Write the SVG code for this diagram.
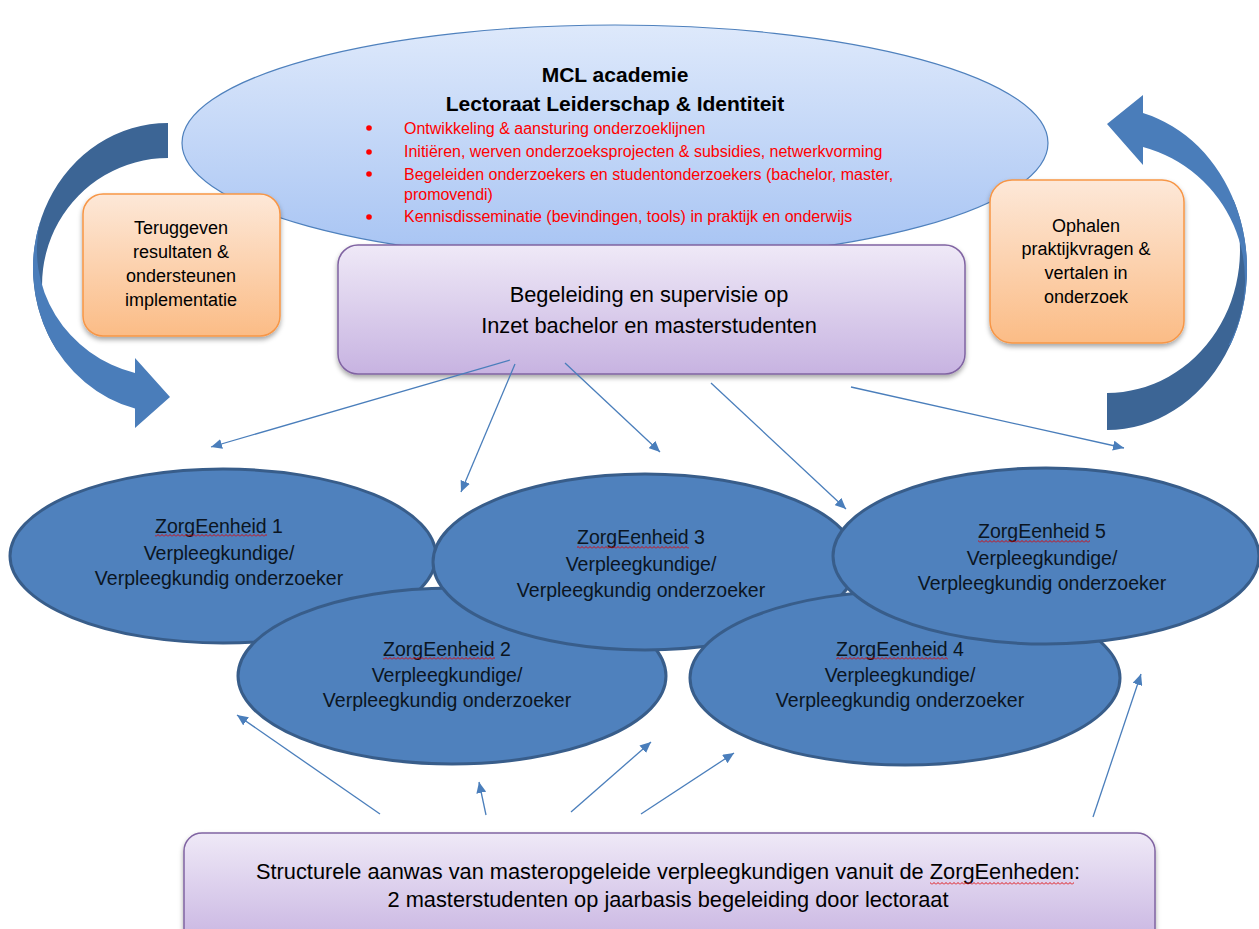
<svg xmlns="http://www.w3.org/2000/svg" width="1259" height="929" viewBox="0 0 1259 929">
<style>
text { font-family: "Liberation Sans", Arial, sans-serif; fill: #000; }
.c { text-anchor: middle; }
.title { font-size: 21px; font-weight: bold; }
.red { font-size: 16px; fill: #ff0000; }
.box { font-size: 21.8px; }
.or { font-size: 18px; }
.ze { font-size: 19.5px; fill: #0b1522; }
.zell { fill: #4f81bd; stroke: #385d8a; stroke-width: 3; }
.wavy { fill: url(#wavy); }
.conn line { stroke: #4a7ebb; stroke-width: 1.3; marker-end: url(#ah); }
.arrDark { fill: #3c6595; }
.arrLight { fill: #4a7dba; }
</style>
<defs>
<linearGradient id="gBlue" x1="0" y1="0" x2="0" y2="1">
<stop offset="0" stop-color="#dee9fb"/>
<stop offset="1" stop-color="#a6c3f3"/>
</linearGradient>
<linearGradient id="gPurple" x1="0" y1="0" x2="0" y2="1">
<stop offset="0" stop-color="#efe9f7"/>
<stop offset="1" stop-color="#c7b3e1"/>
</linearGradient>
<linearGradient id="gOrange" x1="0" y1="0" x2="0" y2="1">
<stop offset="0" stop-color="#fde8d8"/>
<stop offset="1" stop-color="#fbbc86"/>
</linearGradient>
<filter id="sh" x="-10%" y="-10%" width="120%" height="130%">
<feDropShadow dx="0" dy="3" stdDeviation="2.5" flood-color="#000" flood-opacity="0.35"/>
</filter>
<pattern id="wavy" width="4" height="3" patternUnits="userSpaceOnUse">
<path d="M0,2.5 L2,0.5 L4,2.5" fill="none" stroke="#e00000" stroke-width="0.9"/>
</pattern>
<marker id="ah" markerWidth="12" markerHeight="10" refX="11" refY="5" orient="auto" markerUnits="userSpaceOnUse">
<path d="M0,0 L11,5 L0,10 Z" fill="#4a7ebb"/>
</marker>
</defs>

<rect width="1259" height="929" fill="#ffffff"/>

<g id="arrow-left">
<path class="arrDark" d="M168,123 A135,145 0 0 0 56.7,350 L59.8,350 A126,127 0 0 1 168,158 Z"/>
<path class="arrLight" d="M40.6,220 A135,145 0 0 0 135,408.6 L135,428 L170,397 L135,358 L135,373 A131,127.1 0 0 1 40.6,220 Z"/>
</g>
<g id="arrow-right">
<path class="arrDark" d="M1107,430 A140,161.2 0 0 0 1233.6,200 L1231.6,200 A133,143 0 0 1 1107,393 Z"/>
<path class="arrLight" d="M1143,113 A140,161.2 0 0 1 1230.4,345 L1228.7,345 A138,137.8 0 0 0 1143,147 L1143,165 L1107,124 L1143,95 Z"/>
</g>

<g id="mcl">
<ellipse cx="615" cy="143" rx="433" ry="118" fill="url(#gBlue)" stroke="#4f81bd" stroke-width="1.2"/>
<text class="title c" x="615" y="82">MCL academie</text>
<text class="title c" x="615" y="111">Lectoraat Leiderschap &amp; Identiteit</text>
<g fill="#ff0000">
<circle cx="369" cy="128" r="2.8"/>
<circle cx="369" cy="152" r="2.8"/>
<circle cx="369" cy="174" r="2.8"/>
<circle cx="369" cy="217" r="2.8"/>
</g>
<text class="red" x="404" y="134">Ontwikkeling &amp; aansturing onderzoeklijnen</text>
<text class="red" x="404" y="157">Initiëren, werven onderzoeksprojecten &amp; subsidies, netwerkvorming</text>
<text class="red" x="404" y="180">Begeleiden onderzoekers en studentonderzoekers (bachelor, master,</text>
<text class="red" x="404" y="200">promovendi)</text>
<text class="red" x="404" y="222">Kennisdisseminatie (bevindingen, tools) in praktijk en onderwijs</text>
</g>

<g id="teruggeven">
<rect x="83" y="194" width="197" height="142" rx="20" fill="url(#gOrange)" stroke="#f79646" stroke-width="1.5" filter="url(#sh)"/>
<text class="or c" x="181" y="234">Teruggeven</text>
<text class="or c" x="181" y="258">resultaten &amp;</text>
<text class="or c" x="181" y="282">ondersteunen</text>
<text class="or c" x="181" y="306">implementatie</text>
</g>

<g id="ophalen">
<rect x="990" y="180" width="194" height="163" rx="22" fill="url(#gOrange)" stroke="#f79646" stroke-width="1.5" filter="url(#sh)"/>
<text class="or c" x="1086" y="232">Ophalen</text>
<text class="or c" x="1086" y="255">praktijkvragen &amp;</text>
<text class="or c" x="1086" y="279">vertalen in</text>
<text class="or c" x="1086" y="303">onderzoek</text>
</g>

<g id="begeleiding">
<rect x="338" y="245" width="627" height="129" rx="20" fill="url(#gPurple)" stroke="#8064a2" stroke-width="1.5" filter="url(#sh)"/>
<text class="box c" x="649" y="302">Begeleiding en supervisie op</text>
<text class="box c" x="649" y="333">Inzet bachelor en masterstudenten</text>
</g>

<g id="ze1">
<ellipse class="zell" cx="223" cy="556" rx="213" ry="87"/>
<text class="ze c" x="219" y="533">ZorgEenheid 1</text>
<rect class="wavy" x="155" y="534" width="112" height="3"/>
<text class="ze c" x="219" y="560">Verpleegkundige/</text>
<text class="ze c" x="219" y="585">Verpleegkundig onderzoeker</text>
</g>
<g id="ze2">
<ellipse class="zell" cx="452" cy="676" rx="214" ry="88"/>
<text class="ze c" x="447" y="656">ZorgEenheid 2</text>
<rect class="wavy" x="383" y="657" width="112" height="3"/>
<text class="ze c" x="447" y="682">Verpleegkundige/</text>
<text class="ze c" x="447" y="707">Verpleegkundig onderzoeker</text>
</g>
<g id="ze3">
<ellipse class="zell" cx="645" cy="562" rx="212" ry="88"/>
<text class="ze c" x="641" y="544">ZorgEenheid 3</text>
<rect class="wavy" x="577" y="546" width="112" height="3"/>
<text class="ze c" x="641" y="571">Verpleegkundige/</text>
<text class="ze c" x="641" y="597">Verpleegkundig onderzoeker</text>
</g>
<g id="ze4">
<ellipse class="zell" cx="905" cy="678" rx="215" ry="87"/>
<text class="ze c" x="900" y="656">ZorgEenheid 4</text>
<rect class="wavy" x="836" y="657" width="112" height="3"/>
<text class="ze c" x="900" y="682">Verpleegkundige/</text>
<text class="ze c" x="900" y="707">Verpleegkundig onderzoeker</text>
</g>
<g id="ze5">
<ellipse class="zell" cx="1046" cy="556" rx="213" ry="88"/>
<text class="ze c" x="1042" y="538">ZorgEenheid 5</text>
<rect class="wavy" x="978" y="540" width="112" height="3"/>
<text class="ze c" x="1042" y="565">Verpleegkundige/</text>
<text class="ze c" x="1042" y="590">Verpleegkundig onderzoeker</text>
</g>

<g id="structurele">
<rect x="184" y="833" width="971" height="115" rx="18" fill="url(#gPurple)" stroke="#8064a2" stroke-width="1.5" filter="url(#sh)"/>
<text class="box c" x="668" y="879">Structurele aanwas van masteropgeleide verpleegkundigen vanuit de ZorgEenheden:</text>
<rect class="wavy" x="930" y="882" width="144" height="3"/>
<text class="box c" x="668" y="907">2 masterstudenten op jaarbasis begeleiding door lectoraat</text>
</g>

<g id="connectors" class="conn">
<line x1="510" y1="360" x2="211" y2="447"/>
<line x1="515" y1="364" x2="461" y2="492"/>
<line x1="565" y1="363" x2="660" y2="452"/>
<line x1="711" y1="383" x2="846" y2="509"/>
<line x1="851" y1="387" x2="1124" y2="448"/>
<line x1="380" y1="814" x2="237" y2="715"/>
<line x1="486" y1="815" x2="479" y2="782"/>
<line x1="571" y1="812" x2="651" y2="742"/>
<line x1="641" y1="814" x2="734" y2="753"/>
<line x1="1093" y1="817" x2="1141" y2="674"/>
</g>
</svg>
